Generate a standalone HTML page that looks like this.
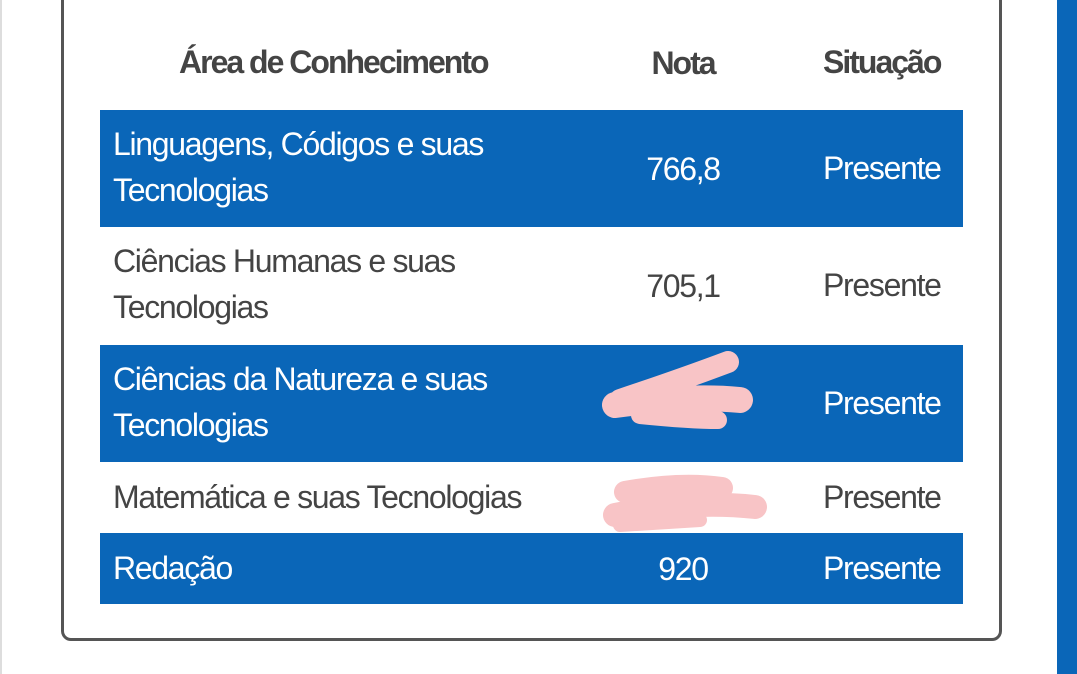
<!DOCTYPE html>
<html><head><meta charset="utf-8"><style>
body{margin:0;width:1077px;height:674px;background:#fff;position:relative;overflow:hidden;font-family:"Liberation Sans",sans-serif;}
.edge{position:absolute;left:0;top:0;width:2px;height:674px;background:#ddd}
.card{position:absolute;left:61px;top:-10px;width:935px;height:645px;border:3px solid #555;border-radius:10px;background:#fff}
.side{position:absolute;left:1057px;top:0;width:20px;height:674px;background:#0a66b8}
.row{position:absolute;left:100px;width:863px;font-size:32px;letter-spacing:-1.3px;color:#444}
.row.b{background:#0a66b8;color:#fff}
.row span{position:absolute;top:50%;transform:translateY(-52%);line-height:46px}
.a{left:13px}.n{left:583px;width:0;text-align:center;white-space:nowrap}.n i{font-style:normal;position:absolute;left:0;transform:translateX(-50%);top:-23px}
.s{left:723px}
.hd{font-weight:bold;color:#444;letter-spacing:-2px}
</style></head><body>
<div class="edge"></div>
<div class="card"></div>
<div class="side"></div>
<div class="row hd" style="top:40px;height:46px">
<span style="left:79px">Área de Conhecimento</span>
<span class="n"><i>Nota</i></span>
<span class="s">Situação</span></div>
<div class="row b" style="top:110px;height:117px">
<span class="a">Linguagens, Códigos e suas<br>Tecnologias</span><span class="n"><i>766,8</i></span><span class="s">Presente</span></div>
<div class="row" style="top:227px;height:118px">
<span class="a">Ciências Humanas e suas<br>Tecnologias</span><span class="n"><i>705,1</i></span><span class="s">Presente</span></div>
<div class="row b" style="top:345px;height:117px">
<span class="a">Ciências da Natureza e suas<br>Tecnologias</span><span class="s">Presente</span></div>
<div class="row" style="top:462px;height:71px">
<span class="a">Matemática e suas Tecnologias</span><span class="s">Presente</span></div>
<div class="row b" style="top:533px;height:71px">
<span class="a">Redação</span><span class="n"><i>920</i></span><span class="s">Presente</span></div>
<svg style="position:absolute;left:0;top:0" width="1077" height="674">
<g fill="#f8c4c6" stroke="#f8c4c6" stroke-linecap="round">
<path d="M620 400 Q680 380 728 362" stroke-width="22" fill="none"/>
<path d="M615 405 Q690 395 740 400" stroke-width="26" fill="none"/>
<path d="M640 415 Q690 420 718 420" stroke-width="18" fill="none"/>
<path d="M625 492 Q680 482 722 488" stroke-width="22" fill="none"/>
<path d="M615 515 Q690 500 755 507" stroke-width="24" fill="none"/>
<path d="M620 525 Q670 522 700 520" stroke-width="14" fill="none"/>
</g></svg>
</body></html>
